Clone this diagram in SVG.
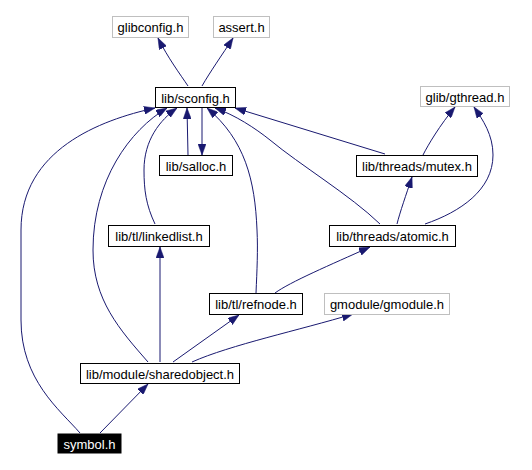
<svg xmlns="http://www.w3.org/2000/svg" width="532" height="470" viewBox="0 0 532 470">
<style>
.n rect{fill:#ffffff;stroke:#000000;stroke-width:1}
.n.ext rect{stroke:#bfbfbf}
.n.cur rect{fill:#000000;stroke:#000000}
.n text{font-family:"Liberation Sans",Arial,sans-serif;font-size:13px;fill:#000000;text-anchor:middle}
.n.cur text{fill:#ffffff}
#edges path{fill:none;stroke:#191970;stroke-width:1;marker-end:url(#ah)}
</style>
<defs>
<marker id="ah" markerUnits="userSpaceOnUse" markerWidth="11" markerHeight="8" refX="11" refY="4" orient="auto">
<path d="M0,0 L11,4 L0,8 z" fill="#191970" stroke="#191970" stroke-width="0.5"/>
</marker>
</defs>
<rect width="532" height="470" fill="#ffffff"/>
<g id="edges">
<path d="M188,86 C180,74 168,58 158,38"/>
<path d="M202,86 C210,72 222,55 233,38"/>
<path d="M188,155 L187,108"/>
<path d="M202,108 L202,155"/>
<path d="M80,433 C60,410 21,380 21,320 L21,230 C21,150 100,120 155,108"/>
<path d="M148,362 C120,330 93,300 93,250 C93,180 130,130 167,108"/>
<path d="M155,224 C146,205 144,190 144,170 C144,140 160,120 177,108"/>
<path d="M256,293 C257,270 258,250 257,230 C255,180 245,140 207,108"/>
<path d="M380,224 C350,195 300,165 270,140 C255,128 235,115 215,108"/>
<path d="M385,154 L235,108"/>
<path d="M423,155 C428,145 440,125 455,107"/>
<path d="M425,224 C460,212 493,190 493,155 C493,135 483,120 474,107"/>
<path d="M397,224 C400,212 406,195 412,177"/>
<path d="M275,293 C290,282 330,265 370,247"/>
<path d="M160,362 L160,247"/>
<path d="M173,362 L239,315"/>
<path d="M192,362 C230,345 300,330 353,314"/>
<path d="M100,433 L148,384"/>
</g>
<g id="glibconfig" class="n ext"><rect x="112.5" y="16.5" width="76" height="21"/><text x="150.5" y="32">glibconfig.h</text></g>
<g id="assert" class="n ext"><rect x="213.5" y="16.5" width="56" height="21"/><text x="241.5" y="32">assert.h</text></g>
<g id="sconfig" class="n"><rect x="155.5" y="87.5" width="80" height="20"/><text x="195.5" y="102.5">lib/sconfig.h</text></g>
<g id="gthread" class="n ext"><rect x="420.5" y="86.5" width="89" height="20"/><text x="465" y="101.5">glib/gthread.h</text></g>
<g id="salloc" class="n"><rect x="159.5" y="155.5" width="73" height="20"/><text x="196" y="170.5">lib/salloc.h</text></g>
<g id="mutex" class="n"><rect x="356.5" y="155.5" width="121" height="21"/><text x="417" y="171">lib/threads/mutex.h</text></g>
<g id="linkedlist" class="n"><rect x="108.5" y="225.5" width="101" height="21"/><text x="159" y="241">lib/tl/linkedlist.h</text></g>
<g id="atomic" class="n"><rect x="329.5" y="225.5" width="126" height="21"/><text x="392.5" y="241">lib/threads/atomic.h</text></g>
<g id="refnode" class="n"><rect x="209.5" y="293.5" width="93" height="21"/><text x="256" y="309">lib/tl/refnode.h</text></g>
<g id="gmodule" class="n ext"><rect x="324.5" y="293.5" width="125" height="21"/><text x="387" y="309">gmodule/gmodule.h</text></g>
<g id="sharedobject" class="n"><rect x="80.5" y="363.5" width="159" height="20"/><text x="160" y="378.5">lib/module/sharedobject.h</text></g>
<g id="symbol" class="n cur"><rect x="58" y="434" width="63" height="19"/><text x="89.5" y="448.5">symbol.h</text></g>
</svg>
